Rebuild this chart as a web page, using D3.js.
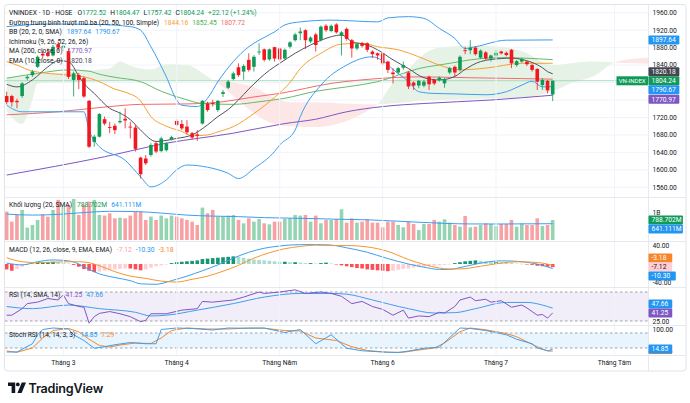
<!DOCTYPE html>
<html><head><meta charset="utf-8">
<script src="https://cdn.jsdelivr.net/npm/d3@7"></script>
<style>body{margin:0;background:#fff}svg{display:block;font-family:Roboto,"Noto Sans",sans-serif}</style>
</head><body><svg id="c" width="690" height="403"></svg>
<script>
// ---------------- DATA ----------------
const candleOpen=[1769,1769,1758,1769,1810,1817,1836,1866,1868,1862,1888,1880,1872,1806,1817,1810,1758,1664,1676,1716,1698,1701,1709,1717,1699,1697,1628,1626,1634,1661,1643,1645,1670,1712,1705,1699,1684,1681,1706,1752,1753,1737,1774,1788,1808,1835,1825,1852,1836,1869,1876,1853,1881,1878,1855,1882,1897,1913,1920,1894,1910,1897,1930,1918,1933,1907,1923,1897,1878,1890,1890,1871,1867,1867,1848,1823,1823,1834,1823,1800,1793,1793,1813,1806,1806,1798,1823,1836,1829,1874,1874,1880,1857,1869,1855,1862,1871,1868,1875,1840,1848,1848,1840,1831,1794,1804,1772.52];
const candleHigh=[1779,1772,1763,1801,1817,1829,1862,1872,1878,1886,1893,1890,1878,1825,1822,1814,1760,1680,1730,1722,1710,1706,1733,1741,1710,1703,1630,1634,1661,1664,1676,1664,1678,1716,1714,1714,1687,1691,1760,1756,1760,1760,1783,1806,1825,1844,1842,1867,1863,1890,1878,1878,1882,1880,1878,1895,1914,1926,1922,1906,1914,1931,1934,1933,1936,1918,1926,1900,1890,1893,1892,1874,1869,1869,1850,1833,1836,1848,1826,1803,1806,1806,1816,1809,1814,1811,1836,1839,1862,1882,1897,1883,1876,1872,1864,1875,1873,1871,1877,1852,1857,1850,1843,1833,1810,1806,1804.47];
const candleLow=[1750,1745,1741,1765,1805,1813,1833,1855,1858,1860,1872,1872,1808,1768,1785,1765,1650,1653,1674,1702,1684,1682,1706,1695,1672,1642,1580,1611,1630,1638,1640,1642,1667,1699,1691,1681,1670,1666,1704,1733,1745,1733,1767,1785,1805,1813,1806,1825,1825,1863,1848,1850,1848,1849,1852,1878,1894,1897,1877,1890,1871,1894,1916,1915,1912,1862,1896,1857,1874,1880,1870,1856,1852,1840,1822,1798,1819,1829,1785,1783,1787,1789,1783,1794,1802,1788,1819,1813,1825,1865,1865,1862,1854,1852,1848,1859,1864,1860,1833,1836,1845,1838,1825,1783,1783,1775,1757.42];
const candleClose=[1755,1755,1755,1798,1813,1825,1859,1862,1861,1882,1880,1884,1813,1821,1806,1768,1653,1676,1728,1706,1696,1691,1712,1713,1697,1648,1590,1615,1657,1642,1672,1661,1675,1703,1695,1686,1674,1678,1758,1737,1751,1758,1778,1802,1821,1817,1838,1829,1859,1871,1852,1876,1855,1853,1875,1892,1910,1917,1897,1903,1886,1928,1920,1930,1915,1915,1900,1878,1888,1884,1875,1865,1862,1844,1829,1819,1833,1840,1791,1793,1804,1802,1796,1798,1811,1808,1833,1823,1859,1872,1880,1865,1873,1855,1862,1868,1867,1863,1844,1849,1854,1842,1829,1802,1806,1782.12,1804.24];
const volumeM=[1117,723,986,1183,486,591,789,1012,920,1183,1577,1314,1380,1617,986,1380,1511,1577,986,960,1052,854,881,854,960,1117,1117,789,920,789,960,854,960,920,854,789,723,591,1275,1052,1183,920,920,960,986,789,657,854,723,828,657,618,723,723,828,854,986,960,986,723,960,657,789,789,828,1210,683,854,683,723,815,683,683,500,723,723,591,500,723,631,394,631,631,788,723,815,683,591,526,946,500,526,591,657,631,552,631,631,788,526,657,591,591,854,552,591,788.702];
const volumeSma=[[0,1020],[5,980],[10,1010],[15,1080],[20,1130],[25,1120],[30,1060],[35,980],[40,940],[45,920],[50,880],[55,860],[60,840],[65,815],[70,795],[75,750],[80,700],[85,655],[90,632],[95,630],[100,635],[106,641.111]];
const ma20=[[0,1848],[2,1840],[5,1826],[12,1817],[15,1813],[18,1802],[21,1785],[23,1778],[26,1758],[28,1722],[31,1700],[34,1688],[36,1678],[39,1680],[41,1687],[44,1699],[48,1729],[52,1766],[55,1800],[57,1832],[61,1867],[65,1888],[69,1890],[72,1882],[76,1875],[80,1859],[84,1840],[88,1829],[93,1833],[100,1844],[106,1844.16]];
const ma50=[[0,1810],[6,1821],[12,1829],[16,1826],[18,1819],[21,1812],[26,1802],[30,1780],[34,1764],[38,1752],[44,1750],[49,1756],[54,1764],[60,1780],[66,1790],[72,1802],[80,1832],[86,1844],[90,1852],[96,1857],[106,1852.45]];
const ma100=[[0,1726],[10,1733],[20,1745],[26,1750],[35,1751],[42,1756],[48,1767],[53,1775],[63,1798],[72,1809],[80,1813],[90,1811],[100,1809],[106,1807.72]];
const ma200=[[0,1588],[19,1630],[31,1661],[44,1684],[54,1706],[60,1716],[66,1733],[73,1745],[81,1752],[94,1760],[106,1770.97]];
const ema10=[[0,1796],[2,1790],[5,1806],[8,1836],[10,1850],[12,1848],[14,1815],[15,1798],[17,1775],[20,1741],[22,1730],[24,1715],[26,1691],[29,1665],[33,1672],[36,1680],[39,1703],[41,1722],[43,1738],[45,1760],[47,1785],[49,1808],[51,1828],[53,1844],[56,1867],[59,1886],[63,1905],[65,1909],[67,1894],[70,1886],[72,1875],[75,1852],[78,1832],[81,1811],[84,1806],[87,1814],[89,1830],[92,1848],[96,1855],[98,1856],[100,1853],[102,1846],[104,1834],[105,1825],[106,1820.18]];
const bbUpper=[[0,1928],[8,1934],[18,1933],[24,1928],[26,1920],[28,1882],[31,1813],[33,1760],[34,1748],[37,1745],[39,1764],[41,1802],[44,1848],[47,1882],[49,1897],[52,1916],[54,1932],[57,1939],[63,1943],[72,1939],[74,1948],[78,1951],[81,1947],[84,1924],[87,1901],[89,1878],[91,1882],[97,1897],[106,1897.64]];
const bbLower=[[0,1748],[3,1733],[15,1733],[16,1691],[18,1653],[23,1622],[26,1584],[28,1561],[31,1577],[33,1600],[35,1611],[39,1606],[43,1592],[45,1580],[48,1603],[52,1642],[53,1657],[56,1691],[57,1722],[61,1794],[66,1840],[71,1859],[73,1850],[75,1830],[78,1802],[80,1779],[83,1775],[87,1774],[93,1772],[97,1779],[100,1794],[102,1803],[104,1790],[106,1790.67]];
const cloudBars=[0,3,5,6,10,16,20,22,24,28,31,35,38,40,42,44,48,52,55,60,66,70,72,75,78,80,84,90,96,100,106,110,114,118,122,126];
const cloudSpanA=[1812,1815,1818,1820,1822,1828,1832,1848,1838,1830,1842,1840,1822,1806,1790,1770,1730,1705,1700,1698,1712,1735,1750,1800,1830,1855,1880,1884,1882,1872,1840,1845,1848,1846,1844,1843];
const cloudSpanB=[1735,1705,1760,1798,1800,1802,1803,1805,1805,1805,1806,1806,1806,1806,1805,1800,1790,1765,1755,1755,1752,1750,1750,1752,1755,1758,1760,1762,1764,1765,1780,1800,1815,1846,1855,1858];
const macdHist=[-12,-15,-11,-6,-2,1,3,3,4,5,4,3,1,-2,-6,-11,-15,-18,-17,-15,-13,-12,-11,-10,-10,-12,-14,-12,-8,-5,-3,-1,2,4,5,6,7,8,11,12,13,14,15,16,17,16,14,12,10,9,8,7,6,5,5,4,4,3,2,2,1,2,3,1,-1,-3,-5,-7,-9,-10,-12,-13,-14,-15,-16,-15,-13,-11,-10,-8,-7,-6,-5,-4,-3,-2,-1,2,4,6,7,8,7,6,5,5,4,3,2,1,0.5,-1,-2,-4,-5,-6,-7.12];
const macdLine=[[0,2],[3,-2],[6,5],[9,9],[12,7],[14,0],[16,-12],[18,-22],[21,-30],[24,-37],[26,-44],[29,-45],[32,-37],[35,-27],[38,-15],[41,-2],[44,13],[47,26],[50,35],[53,40],[57,43],[60,43],[63,42],[66,36],[70,26],[74,12],[78,0],[81,-7],[84,-12],[86,-12],[88,-8],[92,2],[96,7],[99,6],[102,2],[104,-3],[106,-10.3]];
const macdSignal=[[0,14],[3,5],[6,3],[9,4],[12,5],[14,5],[16,3],[18,-4],[21,-17],[24,-27],[27,-32],[30,-38],[33,-40],[36,-34],[39,-27],[42,-16],[45,-3],[48,13],[51,25],[54,34],[57,39],[60,42],[63,41],[66,41],[70,38],[74,28],[78,10],[81,-1],[84,-9],[86,-11],[88,-11],[92,-5],[96,2],[99,5],[102,4],[104,2],[106,-3.18]];
const rsiLine=[[0,38],[1,38],[3,47],[4,54],[6,56],[8,61],[10,59],[11,66],[12,54],[14,50],[15,49],[16,27],[17,36],[18,40.5],[20,43],[22,40],[24,36],[26,29],[27,31],[28,40],[31,40],[34,45],[37,47],[38,57],[40,56],[44,59],[46,63],[49,70],[50,68],[53,70],[56,73],[58,68],[61,70],[63,68],[65,64],[67,54],[69,57],[71,50],[73,46],[75,38],[77,45],[78,34],[80,37],[82,36],[84,42],[85,41],[87,50],[88,59],[90,63],[91,58],[93,60],[94,56],[96,58],[98,49],[100,52],[101,48],[103,38],[104,39],[105,34],[106,41.25]];
const rsiMa=[[0,50],[5,47],[12,52],[18,47],[25,42],[28,37],[31,38],[37,45],[44,54],[50,63],[57,68],[63,68],[66,67],[71,59],[78,47],[83,41],[87,41.5],[91,47],[97,55.6],[101,55.6],[104,52],[106,47.66]];
const stochK=[[0,4],[2,4],[5,37],[6,73],[7,94],[9,100],[12,96],[13,73],[15,50],[17,19],[19,25],[21,33],[24,42],[27,37],[29,37],[30,94],[33,100],[36,98],[40,92],[43,100],[47,99],[50,100],[54,82],[57,94],[60,37],[63,73],[66,19],[69,9],[73,4],[76,2],[78,8],[81,19],[84,23],[88,100],[90,98],[93,90],[97,73],[99,55],[102,37],[103,20],[105,9],[106,14.85]];
const stochD=[[0,8],[2,3],[5,20],[7,60],[9,90],[12,98],[14,85],[16,55],[18,30],[20,24],[22,32],[25,40],[28,38],[30,60],[32,90],[35,100],[39,96],[43,96],[47,100],[50,99],[54,90],[57,88],[60,60],[62,55],[64,50],[67,25],[70,10],[74,3],[77,3],[80,12],[83,20],[85,40],[88,85],[90,100],[93,93],[97,78],[99,65],[101,45],[103,25],[105,8],[106,7.29]];
const priceTicks=[1560,1600,1640,1680,1720,1760,1800,1840,1880,1920,1960];
const priceTickLabels=[1560,1600,1640,1680,1720,1840,1880,1920,1960];
const monthLabels=["Tháng 3","Tháng 4","Tháng Năm","Tháng 6","Tháng 7","Tháng Tám"];
const monthBars=[11,33,53,73,95,118];

// ---------------- DRAW ----------------
const UP="#0f9a57",DN="#f2161f";
const svg=d3.select("#c");
const PL=5,PR=648;
const x=d3.scaleLinear().domain([0,106]).range([6.67,552.7]);
const bw=3.6;
const P={main:[5,197],vol:[198,241],macd:[242,287],rsi:[288,325],stoch:[326,355]};
const yP=d3.scaleLinear().domain([1560,1960]).range([187.3,12.7]);
const yV=d3.scaleLinear().domain([0,1000]).range([240,214.6]);
const yM=d3.scaleLinear().domain([-40,40]).range([282,246]);
const yR=d3.scaleLinear().domain([30,70]).range([321,292]);
const yS=d3.scaleLinear().domain([0,100]).range([353,328]);

svg.append("rect").attr("width",690).attr("height",403).attr("fill","#fff");
const defs=svg.append("defs");
Object.entries(P).forEach(([k,[t,b]])=>{
  defs.append("clipPath").attr("id","clip-"+k).append("rect").attr("x",PL).attr("y",t).attr("width",PR-PL).attr("height",b-t);
});
const G={};
Object.keys(P).forEach(k=>G[k]=svg.append("g").attr("clip-path","url(#clip-"+k+")"));

// grid
priceTicks.forEach(v=>G.main.append("line").attr("x1",PL).attr("x2",PR).attr("y1",yP(v)).attr("y2",yP(v)).attr("stroke","#f0f3fa"));
monthBars.forEach(b=>svg.append("line").attr("x1",x(b)).attr("x2",x(b)).attr("y1",5).attr("y2",355).attr("stroke","#f0f3fa"));

const L=(ys,curve)=>d3.line().x(d=>x(d[0])).y(d=>ys(d[1])).curve(curve||d3.curveMonotoneX);

// Ichimoku cloud
const cloud=cloudBars.map((b,i)=>({b,a:cloudSpanA[i],s:cloudSpanB[i]}));
const cArea=d3.area().x(d=>x(d.b)).y0(d=>yP(d.a)).y1(d=>yP(d.s)).curve(d3.curveMonotoneX);
const above=d3.area().x(d=>x(d.b)).y0(0).y1(d=>yP(d.s)).curve(d3.curveMonotoneX);
const below=d3.area().x(d=>x(d.b)).y0(400).y1(d=>yP(d.s)).curve(d3.curveMonotoneX);
defs.append("clipPath").attr("id","cab").append("path").attr("d",above(cloud));
defs.append("clipPath").attr("id","cbe").append("path").attr("d",below(cloud));
G.main.append("g").attr("clip-path","url(#cab)").append("path").attr("d",cArea(cloud)).attr("fill","#e6f2e6");
G.main.append("g").attr("clip-path","url(#cbe)").append("path").attr("d",cArea(cloud)).attr("fill","#fde6e6");

// price line
const last=candleClose[candleClose.length-1];
G.main.append("line").attr("x1",PL).attr("x2",PR).attr("y1",yP(last)).attr("y2",yP(last)).attr("stroke","#a9dcbf").attr("stroke-width",1);

const drawLine=(g,data,ys,color,w,curve)=>g.append("path").attr("d",L(ys,curve)(data)).attr("fill","none").attr("stroke",color).attr("stroke-width",w||1);
drawLine(G.main,ma200,yP,"#7e57c2",1);
drawLine(G.main,ma100,yP,"#f26b6b",1);
drawLine(G.main,ma50,yP,"#66bb6a",1);
drawLine(G.main,ma20,yP,"#f7a030",1);
drawLine(G.main,bbUpper,yP,"#3d9ef0",1);
drawLine(G.main,bbLower,yP,"#3d9ef0",1);
drawLine(G.main,ema10,yP,"#505360",1);

// candles
candleClose.forEach((c,i)=>{
  const o=candleOpen[i],col=c>=o?UP:DN;
  G.main.append("line").attr("x1",x(i)).attr("x2",x(i)).attr("y1",yP(candleHigh[i])).attr("y2",yP(candleLow[i])).attr("stroke",col).attr("stroke-width",0.8);
  const y1=yP(Math.max(o,c)),y2=yP(Math.min(o,c));
  G.main.append("rect").attr("x",x(i)-bw/2).attr("y",y1).attr("width",bw).attr("height",Math.max(0.8,y2-y1)).attr("fill",col);
});

// volume
volumeM.forEach((v,i)=>{
  const up=candleClose[i]>=candleOpen[i];
  G.vol.append("rect").attr("x",x(i)-bw/2).attr("y",yV(v)).attr("width",bw).attr("height",yV(0)-yV(v)).attr("fill",up?"#95d4b3":"#f8a1a4");
});
drawLine(G.vol,volumeSma,yV,"#3d9ef0",1);

// MACD
macdHist.forEach((h,i)=>{
  const prev=i>0?macdHist[i-1]:h;
  const col=h>=0?(h>=prev?"#17956f":"#a8ddd0"):(h<=prev?"#ff4d55":"#ffcdd2");
  const y0=yM(0),y1=yM(h);
  G.macd.append("rect").attr("x",x(i)-bw/2).attr("y",Math.min(y0,y1)).attr("width",bw).attr("height",Math.max(0.5,Math.abs(y1-y0))).attr("fill",col);
});
drawLine(G.macd,macdLine,yM,"#3d9ef0",1);
drawLine(G.macd,macdSignal,yM,"#f5962f",1);

// RSI
G.rsi.append("rect").attr("x",PL).attr("width",PR-PL).attr("y",yR(70)).attr("height",yR(30)-yR(70)).attr("fill","rgba(126,87,194,0.1)");
[70,30].forEach(v=>G.rsi.append("line").attr("x1",PL).attr("x2",PR).attr("y1",yR(v)).attr("y2",yR(v)).attr("stroke","#8a8d96").attr("stroke-width",0.8).attr("stroke-dasharray","2.5,2.5"));
drawLine(G.rsi,rsiMa,yR,"#3d9ef0",1);
drawLine(G.rsi,rsiLine,yR,"#7e57c2",1,d3.curveLinear);

// Stoch RSI
G.stoch.append("rect").attr("x",PL).attr("width",PR-PL).attr("y",yS(80)).attr("height",yS(20)-yS(80)).attr("fill","rgba(33,150,243,0.1)");
[80,20].forEach(v=>G.stoch.append("line").attr("x1",PL).attr("x2",PR).attr("y1",yS(v)).attr("y2",yS(v)).attr("stroke","#8a8d96").attr("stroke-width",0.8).attr("stroke-dasharray","2.5,2.5"));
drawLine(G.stoch,stochD,yS,"#f7862a",1,d3.curveLinear);
drawLine(G.stoch,stochK,yS,"#3d9ef0",1,d3.curveLinear);

// separators and frame
[197.5,241.5,287.5,325.5,355.5].forEach(y=>svg.append("line").attr("x1",5).attr("x2",686).attr("y1",y).attr("y2",y).attr("stroke","#e0e3eb").attr("stroke-width",0.8));
svg.append("line").attr("x1",648.5).attr("x2",648.5).attr("y1",5).attr("y2",371).attr("stroke","#e0e3eb").attr("stroke-width",0.8);
svg.append("rect").attr("x",4.5).attr("y",4.5).attr("width",681.5).attr("height",366.5).attr("rx",3).attr("fill","none").attr("stroke","#e0e3eb");

// axis labels
const FS=6.7;
const axisText=(y,t)=>svg.append("text").attr("x",652.5).attr("y",y).attr("dy","0.35em").attr("font-size",FS).attr("fill","#131722").text(t);
priceTickLabels.forEach(v=>axisText(yP(v),v.toFixed(2)));
axisText(212.3,"1B");
axisText(yM(40),"40.00");axisText(yM(-40)+1,"-40.00");
axisText(322,"25.00");
axisText(329.6,"100.00");
monthBars.forEach((b,i)=>svg.append("text").attr("x",x(b)).attr("y",362.5).attr("dy","0.35em").attr("text-anchor","middle").attr("font-size",FS).attr("fill","#131722").text(monthLabels[i]));

// tags
const tag=(y,t,bg,fg)=>{
  const g=svg.append("g");
  g.append("rect").attr("x",648.5).attr("y",y-4.5).attr("width",t.length*3.55+6).attr("height",9).attr("rx",1).attr("fill",bg);
  g.append("text").attr("x",651.5).attr("y",y).attr("dy","0.35em").attr("font-size",FS).attr("fill",fg||"#fff").text(t);
};
tag(40,"1897.64","#2196f3");
tag(71.8,"1820.18","#434651");
tag(80.8,"1804.24",UP);
tag(89.8,"1790.67","#2196f3");
tag(99.3,"1770.97","#7e57c2");
svg.append("rect").attr("x",616.5).attr("y",76.3).attr("width",31.5).attr("height",9).attr("fill",UP);
svg.append("text").attr("x",632.2).attr("y",80.8).attr("dy","0.35em").attr("text-anchor","middle").attr("font-size",6).attr("fill","#fff").text("VN-INDEX");
tag(220,"788.702M",UP);
tag(229,"641.111M","#2196f3");
tag(258,"-3.18","#f7862a");
tag(267,"-7.12","#ffcdd2","#131722");
tag(276,"-10.30","#2196f3");
tag(304,"47.66","#2196f3");
tag(313,"41.25","#7e57c2");
svg.append("rect").attr("x",648.5).attr("y",350).attr("width",23.75).attr("height",4).attr("rx",1).attr("fill","#f7862a");
tag(349,"14.85","#2196f3");

// legends
const legend=(y,parts)=>{
  const t=svg.append("text").attr("x",9).attr("y",y).attr("dy","0.35em").attr("font-size",FS).attr("fill","#131722");
  parts.forEach(([s,c,dx])=>t.append("tspan").attr("fill",c||"#131722").attr("dx",dx||0).text(s));
};
legend(13,[["VNINDEX · 1D · HOSE"],["O",null,5],["1772.52",UP],["H",null,4],["1804.47",UP],["L",null,4],["1757.42",UP],["C",null,4],["1804.24",UP],["+22.12 (+1.24%)",UP,4]]);
legend(22.5,[["Đường trung bình trượt mũ ba (20, 50, 100, Simple)"],["1844.16","#f7a030",5],["1852.45","#4caf50",4],["1807.72","#f26b6b",4]]);
legend(32,[["BB (20, 2, 0, SMA)"],["1897.64","#2196f3",5],["1790.67","#2196f3",4]]);
legend(41.5,[["Ichimoku (9, 26, 52, 26, 26)"]]);
legend(51,[["MA (200, close, 0)"],["1770.97","#7e57c2",5]]);
legend(60.5,[["EMA (10, close, 0)"],["1820.18","#434651",5]]);
legend(205,[["Khối lượng (20, SMA)"],["788.702M",UP,5],["641.111M","#2196f3",4]]);
legend(250,[["MACD (12, 26, close, 9, EMA, EMA)"],["-7.12","#f7a0a8",5],["-10.30","#2196f3",4],["-3.18","#f7862a",4]]);
legend(294.5,[["RSI (14, SMA, 14)"],["41.25","#7e57c2",5],["47.66","#2196f3",4]]);
legend(335,[["Stoch RSI (14, 14, 3, 3)"],["14.85","#2196f3",5],["7.29","#f7862a",4]]);

// TradingView logo
const lg=svg.append("g").attr("fill","#131722");
lg.append("path").attr("d","M8 382.5 h7.2 v10.5 h-3.6 v-6.9 h-3.6 z");
lg.append("circle").attr("cx",17.8).attr("cy",384.4).attr("r",1.9);
lg.append("path").attr("d","M21.8 382.5 h4.2 l-4.4 10.5 h-4.2 z");
svg.append("text").attr("x",28.5).attr("y",392.6).attr("font-size",12.6).attr("font-weight",600).attr("fill","#131722").attr("font-family","Inter,Roboto,sans-serif").attr("letter-spacing","-0.2").text("TradingView");
</script></body></html>
